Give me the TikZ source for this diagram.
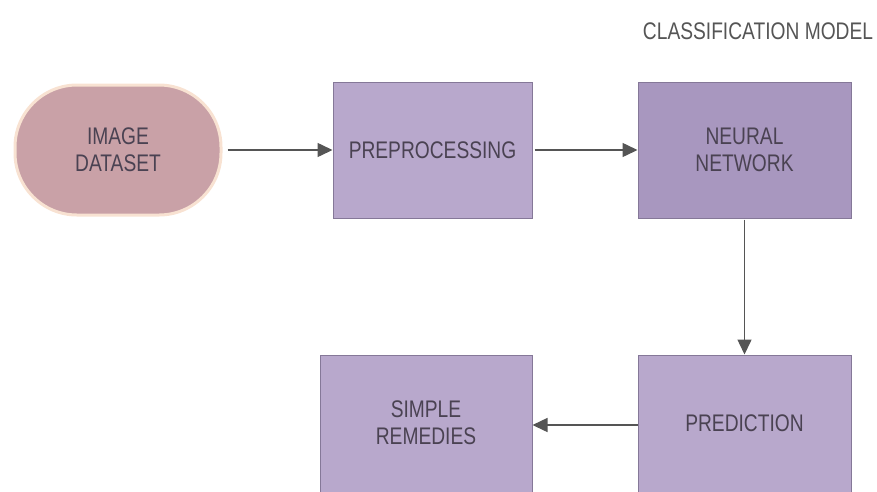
\documentclass[tikz,border=0pt]{standalone}
\usepackage{fontspec}
\newfontfamily\diagfont[FakeStretch=0.8]{Liberation Sans}
\usetikzlibrary{arrows.meta}
\definecolor{pillfill}{HTML}{C9A1A7}
\definecolor{pillline}{HTML}{F8E2D2}
\definecolor{boxfill}{HTML}{B8A8CC}
\definecolor{boxdark}{HTML}{A897BF}
\definecolor{boxline}{HTML}{857898}
\definecolor{txt}{HTML}{4A4252}
\definecolor{arr}{HTML}{555555}
\tikzset{
  x=1pt, y=-1pt,
  lbl/.style={font=\diagfont\fontsize{24}{27}\selectfont, text=txt, align=center, inner sep=0pt},
  pill/.style={lbl, rectangle, draw=pillline, line width=3pt, fill=pillfill, rounded corners=62pt},
  pbox/.style={lbl, rectangle, draw=boxline, line width=1pt, fill=boxfill},
  conn/.style={draw=arr, line width=1.5pt, -{Triangle[length=15pt,width=14pt]}}
}
\begin{document}
\begin{tikzpicture}
\useasboundingbox (0,0) rectangle (877,491);
\node[pill, minimum width=206pt, minimum height=130pt] (img) at (118,150) {IMAGE\\DATASET};
\node[pbox, minimum width=199pt, minimum height=136pt] (pre) at (432.5,150) {PREPROCESSING};
\node[pbox, fill=boxdark, minimum width=213pt, minimum height=136pt] (nn) at (744.5,150) {NEURAL\\NETWORK};
\node[pbox, minimum width=213pt, minimum height=140pt] (pred) at (744.5,425) {};
\node[lbl] (predt) at (744.5,423) {PREDICTION};
\node[pbox, minimum width=212pt, minimum height=140pt] (rem) at (426,425) {};
\node[lbl] (remt) at (426,423) {SIMPLE\\REMEDIES};
\node[lbl, text=arr] (title) at (758,31) {CLASSIFICATION MODEL};
\draw[conn, shorten <=5pt] (img.east) -- (img.east -| pre.west);
\draw[conn, shorten <=2pt] (pre.east) -- (pre.east -| nn.west);
\draw[conn, shorten <=1pt] (nn.south -| pred.north) -- (pred.north);
\draw[conn] (pred.west) -- (pred.west -| rem.east);
\end{tikzpicture}
\end{document}
